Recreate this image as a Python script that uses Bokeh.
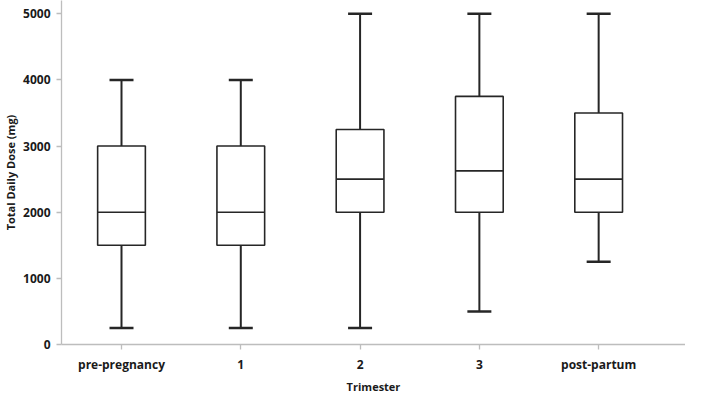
from bokeh.plotting import figure
from bokeh.models import ColumnDataSource, Range1d, FixedTicker, Whisker, TeeHead
from bokeh.embed import file_html
from bokeh.resources import INLINE

categories = ["pre-pregnancy", "1", "2", "3", "post-partum"]
whisker_low = [250, 250, 250, 500, 1250]
q1 = [1500, 1500, 2000, 2000, 2000]
median = [2000, 2000, 2500, 2625, 2500]
q3 = [3000, 3000, 3250, 3750, 3500]
whisker_high = [4000, 4000, 5000, 5000, 5000]
y_ticks = [0, 1000, 2000, 3000, 4000, 5000]

xs = list(range(len(categories)))
box_w = 0.4
src = ColumnDataSource(dict(
    x=xs, q1=q1, q3=q3, med=median, lo=whisker_low, hi=whisker_high,
    x0=[x - box_w / 2 for x in xs], x1=[x + box_w / 2 for x in xs],
))

FONT = "Open Sans"
LINE = "#262626"
AXIS = "#bdbdbd"
TEXT = "#1a1a1a"

p = figure(width=685, height=396, output_backend="svg", toolbar_location=None,
           x_range=Range1d(-0.503, 4.728), y_range=Range1d(0, 5200),
           min_border_left=56, min_border_right=0, min_border_top=0, min_border_bottom=44)
p.outline_line_color = None
p.xgrid.visible = False
p.ygrid.visible = False

up = Whisker(source=src, base="x", lower="q3", upper="hi", dimension="height",
             line_color=LINE, line_width=2,
             upper_head=TeeHead(size=24, line_color=LINE, line_width=2.5),
             lower_head=None)
down = Whisker(source=src, base="x", lower="lo", upper="q1", dimension="height",
               line_color=LINE, line_width=2,
               lower_head=TeeHead(size=24, line_color=LINE, line_width=2.5),
               upper_head=None)
p.add_layout(up)
p.add_layout(down)

p.vbar(x="x", width=box_w, bottom="q1", top="q3", source=src,
       fill_color="white", line_color=LINE, line_width=1.6)
p.segment(x0="x0", x1="x1", y0="med", y1="med", source=src,
          line_color=LINE, line_width=1.6)

for ax in (p.xaxis[0], p.yaxis[0]):
    ax.axis_line_color = AXIS
    ax.axis_line_width = 1.3
    ax.major_tick_line_color = AXIS
    ax.major_tick_line_width = 1.3
    ax.major_tick_in = 0
    ax.major_tick_out = 5
    ax.minor_tick_line_color = None
    ax.major_label_text_font = FONT
    ax.major_label_text_font_style = "bold"
    ax.major_label_text_font_size = "12px"
    ax.major_label_text_color = TEXT
    ax.major_label_text_line_height = 1.0
    ax.axis_label_text_font = FONT
    ax.axis_label_text_font_style = "bold"
    ax.axis_label_text_font_size = "11px"
    ax.axis_label_text_color = TEXT
    ax.axis_label_text_line_height = 1.0

p.xaxis.ticker = FixedTicker(ticks=xs)
p.xaxis.major_label_overrides = {i: c for i, c in enumerate(categories)}
p.xaxis.axis_label = "Trimester"
p.xaxis.major_label_standoff = 6
p.xaxis.axis_label_standoff = 3

p.yaxis.ticker = FixedTicker(ticks=y_ticks)
p.yaxis.axis_label = "Total Daily Dose (mg)"
p.yaxis.major_label_standoff = 6
p.yaxis.axis_label_standoff = 2

open("out.html", "w").write(file_html(p, INLINE))
